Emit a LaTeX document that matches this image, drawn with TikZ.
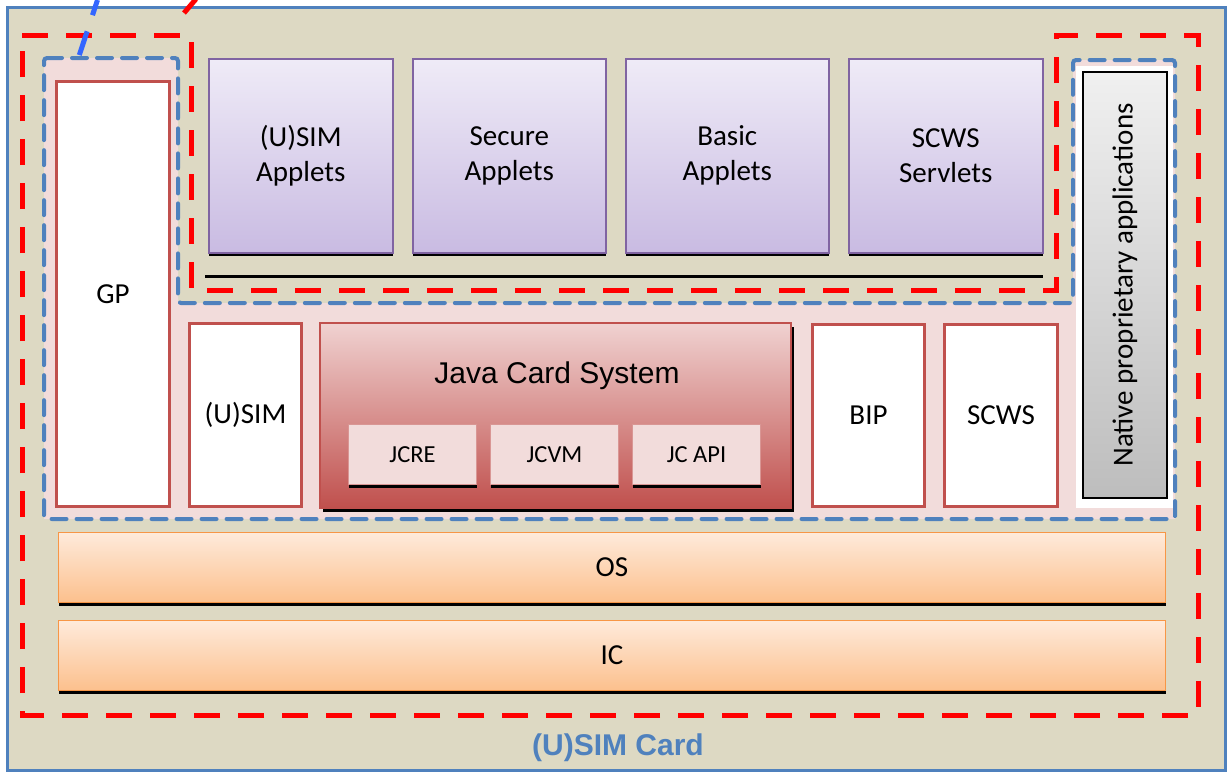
\documentclass[tikz,border=0pt]{standalone}
\usepackage{fontspec}
\setmainfont{Carlito}
\newfontfamily\arialfont{Liberation Sans}
\usetikzlibrary{shadows}
\definecolor{cardfill}{HTML}{DDD9C3}
\definecolor{cardblue}{HTML}{4F81BD}
\definecolor{pinkfill}{HTML}{F2DCDB}
\definecolor{boxred}{HTML}{C0504D}
\definecolor{applettop}{HTML}{EFEBF7}
\definecolor{appletbot}{HTML}{C9BBE2}
\definecolor{appletline}{HTML}{8064A2}
\definecolor{layertop}{HTML}{FEEADB}
\definecolor{layerbot}{HTML}{FCC08D}
\definecolor{layerline}{HTML}{F79646}
\definecolor{subline}{HTML}{D99694}
\definecolor{jcstop}{HTML}{F0D2D1}
\definecolor{nativetop}{HTML}{F0F0F0}
\definecolor{nativebot}{HTML}{BDBDBD}
\definecolor{linkblue}{HTML}{3366FF}
\begin{document}
\begin{tikzpicture}[x=1pt,y=-1pt,
txt/.style={font=\fontsize{29}{35}\selectfont, align=center, inner sep=0},
applet/.style={txt, draw=appletline, line width=1.5pt, top color=applettop, bottom color=appletbot,
  minimum height=194pt, anchor=north west, general shadow={fill=black, shadow yshift=-3pt}},
redbox/.style={txt, draw=boxred, line width=3pt, fill=white, anchor=north west},
subbox/.style={draw=subline, line width=1pt, fill=pinkfill, minimum width=128pt, minimum height=60pt,
  anchor=north west, font=\fontsize{24.5}{28}\selectfont, inner sep=0,
  general shadow={fill=black, shadow yshift=-3pt}},
layer/.style={txt, draw=layerline, line width=1pt, top color=layertop, bottom color=layerbot,
  minimum width=1107pt, minimum height=70pt, anchor=north west,
  general shadow={fill=black, shadow yshift=-3pt}},
bluedash/.style={draw=cardblue, line width=4pt, dash pattern=on 15pt off 10pt, line cap=round, rounded corners=3pt},
reddash/.style={draw=red, line width=5pt, dash pattern=on 26pt off 18pt}]
\useasboundingbox (0,0) rectangle (1228,772);
\draw[cardblue, line width=3pt, fill=cardfill] (7,7) rectangle (1225,770);
% smart card areas
\fill[pinkfill] (44,58) -- (178,58) -- (178,303) -- (1073,303) -- (1073,60) -- (1175,60)
  -- (1175,519) -- (44,519) -- cycle;
\fill[white] (1076,66) rectangle (1173,508);
\node[draw=black, line width=1.5pt, top color=nativetop, bottom color=nativebot,
  minimum width=84pt, minimum height=426pt] (native) at (1125,285) {};
\node[txt, rotate=90] (nativetext) at (native.center) {Native proprietary applications};
\node[redbox, minimum width=113pt, minimum height=425pt] (gp) at (55,80) {GP};
\foreach \name/\x/\w/\t in {usimapp/208/184/{(U)SIM\\Applets}, secapp/412/193/{Secure\\Applets},
  basicapp/625/203/{Basic\\Applets}, servlets/848/194/{SCWS\\Servlets}}{
\node[applet, minimum width=\w pt] (\name) at (\x,58) {\t};
}
\draw[line width=3pt] (205,276) -- (1043,276);
\node[redbox, minimum width=112pt, minimum height=183pt] (usim) at (188,322) {(U)SIM};
\node[draw=boxred, line width=1.5pt, top color=jcstop, bottom color=boxred, minimum width=471pt,
  minimum height=185pt, anchor=north west,
  general shadow={fill=black, shadow xshift=3pt, shadow yshift=-4pt}] (jcs) at (319,322) {};
\node[font=\arialfont\fontsize{30}{34}\selectfont] (jcstitle) at (557,376) {Java Card System};
\node[subbox] (jcre) at (348,424) {JCRE};
\node[subbox] (jcvm) at (490,424) {JCVM};
\node[subbox] (jcapi) at (632,424) {JC API};
\node[redbox, minimum width=112pt, minimum height=182pt] (bip) at (811,323) {BIP};
\node[redbox, minimum width=113pt, minimum height=182pt] (scws) at (943,323) {SCWS};
\node[layer] (os) at (58,532) {OS};
\node[layer] (ic) at (58,620) {IC};
% dashed borders
\draw[bluedash] (44,58) -- (178,58) -- (178,303) -- (1073,303) -- (1073,60) -- (1175,60)
  -- (1175,519) -- (44,519) -- cycle;
\draw[reddash] (22,35) -- (191,35) -- (191,290) -- (1056,290) -- (1056,35) -- (1198,35)
  -- (1198,715) -- (22,715) -- cycle;
\draw[linkblue, line width=5pt, dash pattern=on 25pt off 17pt, dash phase=9pt] (97.5,0) -- (79,56);
\draw[red, line width=5pt] (196,-1) -- (184,13);
\node[font=\arialfont\bfseries\fontsize{30}{34}\selectfont, text=cardblue] (cardlabel) at (618,748) {(U)SIM Card};
\end{tikzpicture}
\end{document}
